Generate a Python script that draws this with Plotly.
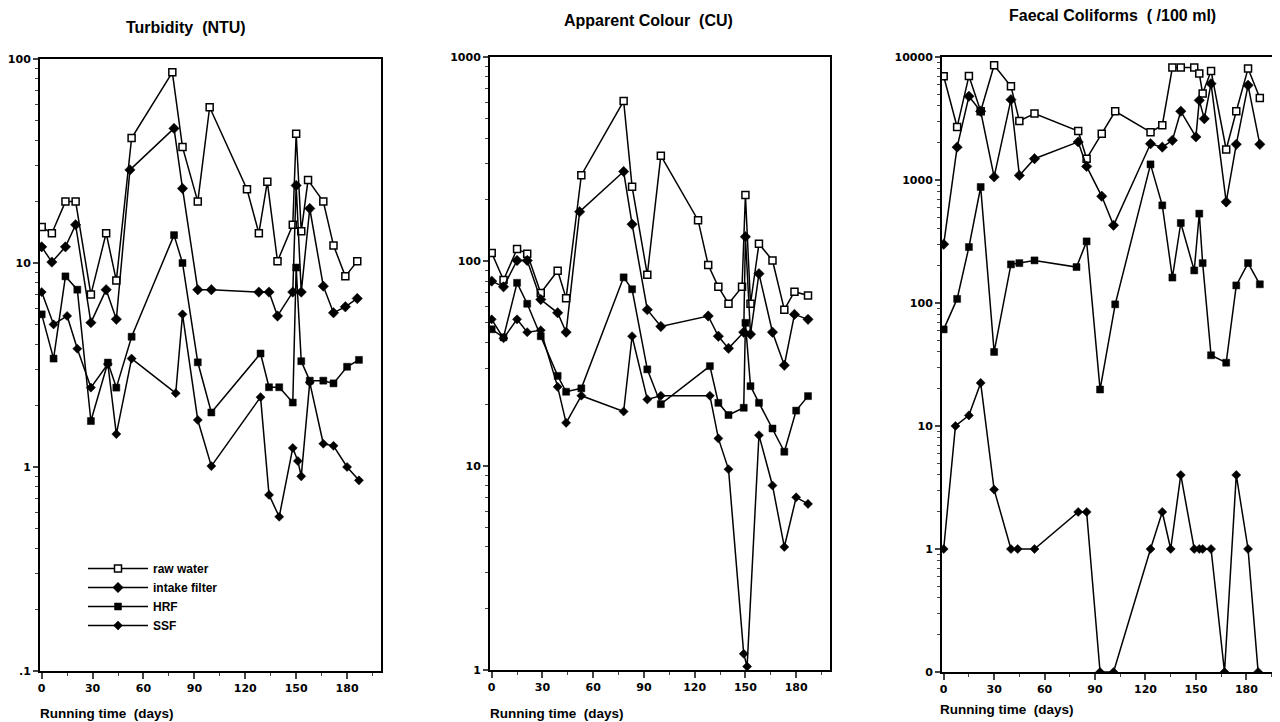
import plotly.graph_objects as go

# ---------------- data ----------------
# Turbidity (NTU)
t_raw_days = [0, 6, 14, 20, 29, 38, 44, 53, 77, 83, 92, 99, 121, 128, 133, 139, 148, 150, 153, 157, 166, 172, 179, 186]
t_raw = [15, 14, 20, 20, 7.0, 14, 8.2, 41, 86, 37, 20, 58, 23, 14, 25, 10.2, 15.4, 43, 14.3, 25.5, 20, 12.2, 8.6, 10.2]
t_intake_days = [0, 6, 14, 20, 29, 38, 44, 52, 78, 83, 92, 100, 128, 134, 139, 148, 150, 153, 158, 166, 172, 179, 186]
t_intake = [12, 10.1, 12, 15.4, 5.1, 7.4, 5.3, 28.6, 45.7, 23.2, 7.4, 7.4, 7.2, 7.2, 5.5, 7.2, 24, 7.2, 18.5, 7.7, 5.7, 6.1, 6.7]
t_hrf_days = [0, 7, 14, 21, 29, 39, 44, 53, 78, 83, 92, 100, 129, 134, 140, 148, 150, 153, 158, 166, 172, 180, 187]
t_hrf = [5.6, 3.4, 8.6, 7.4, 1.68, 3.25, 2.45, 4.35, 13.7, 10, 3.26, 1.85, 3.6, 2.46, 2.46, 2.07, 9.5, 3.3, 2.65, 2.65, 2.57, 3.1, 3.35]
t_ssf_days = [0, 7, 15, 21, 29, 39, 44, 53, 79, 83, 92, 100, 129, 134, 140, 148, 151, 153, 158, 166, 172, 180, 187]
t_ssf = [7.2, 5.0, 5.5, 3.8, 2.45, 3.2, 1.45, 3.4, 2.3, 5.6, 1.7, 1.01, 2.2, 0.73, 0.57, 1.24, 1.07, 0.9, 2.6, 1.3, 1.27, 1.0, 0.86]

# Apparent Colour (CU)
c_raw_days = [0, 7, 15, 21, 29, 39, 44, 53, 78, 83, 92, 100, 122, 128, 134, 140, 148, 150, 153, 158, 166, 173, 179, 187]
c_raw = [110, 81, 115, 109, 70, 90, 66, 264, 609, 232, 86, 329, 159, 96, 75, 62, 75, 211, 62, 122, 101, 58, 71, 68]
c_intake_days = [0, 7, 15, 21, 29, 39, 44, 52, 78, 83, 92, 100, 128, 134, 140, 149, 150, 153, 158, 166, 173, 179, 187]
c_intake = [80, 75, 101, 101, 65, 56, 45, 175, 275, 152, 58, 48, 54, 43, 37.5, 45, 132, 44, 87, 45, 31, 55, 52]
c_hrf_days = [0, 7, 15, 21, 29, 39, 44, 53, 78, 83, 92, 100, 129, 134, 140, 149, 150, 153, 158, 166, 173, 180, 187]
c_hrf = [46.5, 42.5, 78.5, 62, 43, 27.5, 23, 23.9, 83.5, 73, 29.6, 20, 30.7, 20.3, 17.7, 19.2, 50, 24.5, 20.3, 15.2, 11.7, 18.6, 21.9]
c_ssf_days = [0, 7, 15, 21, 29, 39, 44, 53, 78, 83, 92, 100, 129, 134, 140, 149, 151, 158, 166, 173, 180, 187]
c_ssf = [52, 42, 52, 45, 46, 24.3, 16.2, 22, 18.4, 43, 21.1, 22, 22, 13.6, 9.6, 1.2, 1.04, 14.1, 8.0, 4.0, 7.0, 6.5]

# Faecal Coliforms (/100 ml)
f_raw_days = [0, 8, 15, 22, 30, 40, 45, 54, 80, 85, 94, 102, 123, 130, 136, 141, 149, 152, 154, 159, 168, 174, 181, 188]
f_raw = [6970, 2700, 7000, 3620, 8570, 5780, 3020, 3470, 2500, 1490, 2380, 3620, 2450, 2790, 8200, 8200, 8200, 7330, 5040, 7700, 1770, 3620, 8050, 4640]
f_intake_days = [0, 8, 15, 22, 30, 40, 45, 54, 80, 85, 94, 101, 123, 130, 136, 141, 150, 152, 155, 159, 168, 174, 181, 188]
f_intake = [300, 1850, 4790, 3620, 1060, 4500, 1090, 1490, 2040, 1290, 737, 428, 1970, 1850, 2100, 3620, 2240, 4440, 3150, 6070, 663, 1950, 5890, 1950]
f_hrf_days = [0, 8, 15, 22, 30, 40, 45, 54, 79, 85, 93, 102, 123, 130, 136, 141, 149, 152, 154, 159, 168, 174, 181, 188]
f_hrf = [61, 108, 285, 877, 40, 206, 211, 222, 196, 317, 19.8, 97.5, 1340, 622, 161, 447, 184, 533, 211, 37.6, 32.7, 139, 211, 142]
f_ssf_days = [0, 7, 15, 22, 30, 40, 44, 54, 80, 85, 93, 101, 123, 130, 135, 141, 149, 152, 154, 159, 167, 174, 181, 187]
f_ssf = [1, 10, 12.2, 22.4, 3.04, 1, 1, 1, 2, 2, 0, 0, 1, 2, 1, 4, 1, 1, 1, 1, 0, 4, 1, 0]

series_names = ["raw water", "intake filter", "HRF", "SSF"]
panel_titles = ["Turbidity  (NTU)", "Apparent Colour  (CU)", "Faecal Coliforms  ( /100 ml)"]
x_ticks = [0, 30, 60, 90, 120, 150, 180]
y_ticks_1 = [0.1, 1, 10, 100]
y_text_1 = [".1", "1", "10", "100"]
y_ticks_2 = [1, 10, 100, 1000]
y_text_2 = ["1", "10", "100", "1000"]
y_ticks_3 = [0.1, 1, 10, 100, 1000, 10000]
y_text_3 = ["0", "1", "10", "100", "1000", "10000"]
ZERO_POS = 0.1  # where a count of 0 is drawn on the log axis

# ---------------- styles ----------------
FONT = "Liberation Sans, Arial, Helvetica, sans-serif"
TICKFONT = "DejaVu Sans, Liberation Sans, sans-serif"
OFF = 8                      # page body margin of the html page
W, H = 1280 - OFF, 722 - OFF  # figure size so that the page is 1280x722


def fx(px):
    return (px - OFF) / W


def fy(py):
    return 1 - (py - OFF) / H


marker_styles = [
    dict(symbol="square", size=7, color="white", line=dict(color="black", width=1.5)),
    dict(symbol="diamond", size=8, color="black", line=dict(color="black", width=0.5)),
    dict(symbol="square", size=7, color="black", line=dict(color="black", width=0.5)),
    dict(symbol="diamond", size=7, color="black", line=dict(color="black", width=0.5)),
]

panels = [
    dict(data=[(t_raw_days, t_raw), (t_intake_days, t_intake), (t_hrf_days, t_hrf), (t_ssf_days, t_ssf)],
         px=(40, 381), py=(59, 671), yr=(-1, 2), tv=y_ticks_1, tt=y_text_1,
         title_xy=(186, 27), xt_xy=(38, 713)),
    dict(data=[(c_raw_days, c_raw), (c_intake_days, c_intake), (c_hrf_days, c_hrf), (c_ssf_days, c_ssf)],
         px=(490, 830), py=(57, 670), yr=(0, 3), tv=y_ticks_2, tt=y_text_2,
         title_xy=(648, 20), xt_xy=(488, 713)),
    dict(data=[(f_raw_days, f_raw), (f_intake_days, f_intake), (f_hrf_days, f_hrf), (f_ssf_days, f_ssf)],
         px=(942, 1280), py=(57, 672), yr=(-1, 4), tv=y_ticks_3, tt=y_text_3,
         title_xy=(1112, 16), xt_xy=(938, 709)),
]

fig = go.Figure()
layout = dict(
    width=W, height=H, paper_bgcolor="white", plot_bgcolor="white",
    margin=dict(l=0, r=0, t=0, b=0), autosize=False,
    font=dict(family=FONT, color="black", size=11),
    annotations=[],
    legend=dict(x=fx(83), y=fy(554), xanchor="left", yanchor="top",
                font=dict(family=FONT, size=12, color="black", weight="bold"),
                bgcolor="rgba(0,0,0,0)", itemwidth=60, tracegroupgap=0),
    showlegend=True,
)

for i, p in enumerate(panels):
    n = "" if i == 0 else str(i + 1)
    xa, ya = "x" + n, "y" + n
    for j, (xs, ys) in enumerate(p["data"]):
        yplot = [v if v > 0 else ZERO_POS for v in ys]
        fig.add_trace(go.Scatter(
            x=xs, y=yplot, xaxis=xa, yaxis=ya, mode="lines+markers",
            name=series_names[j], showlegend=(i == 0),
            line=dict(color="black", width=1.5), marker=marker_styles[j],
        ))
    lo, hi = p["yr"]
    minor_vals = [k * 10 ** e for e in range(lo, hi) for k in range(2, 10)]
    layout["xaxis" + n] = dict(
        domain=[fx(p["px"][0]), min(1.0, fx(p["px"][1]))], anchor=ya,
        range=[-1, 200], tickvals=x_ticks, ticks="outside", ticklen=6, tickwidth=1.5,
        minor=dict(dtick=15, tick0=0, ticks="outside", ticklen=3, tickwidth=1),
        showline=True, linecolor="black", linewidth=2, mirror=True,
        showgrid=False, zeroline=False, automargin=False,
        tickfont=dict(family=TICKFONT, size=11, weight="bold"),
    )
    layout["yaxis" + n] = dict(
        domain=[fy(p["py"][1]), fy(p["py"][0])], anchor=xa,
        type="log", range=[lo, hi], tickvals=p["tv"], ticktext=p["tt"],
        ticks="outside", ticklen=5, tickwidth=1.5,
        minor=dict(tickvals=minor_vals, ticks="outside", ticklen=3, tickwidth=1, showgrid=False),
        showline=True, linecolor="black", linewidth=2, mirror=True,
        showgrid=False, zeroline=False, automargin=False,
        tickfont=dict(family=TICKFONT, size=11, weight="bold"),
    )
    tx, ty = p["title_xy"]
    layout["annotations"].append(dict(
        text=panel_titles[i], x=fx(tx), y=fy(ty), xref="paper", yref="paper",
        showarrow=False, xanchor="center", yanchor="middle",
        font=dict(family=FONT, size=16, weight="bold", color="black")))
    ax, ay = p["xt_xy"]
    layout["annotations"].append(dict(
        text="Running time  (days)", x=fx(ax), y=fy(ay), xref="paper", yref="paper",
        showarrow=False, xanchor="left", yanchor="middle",
        font=dict(family=FONT, size=13.5, weight="bold", color="black")))

fig.update_layout(**layout)
fig.write_html("out.html")
